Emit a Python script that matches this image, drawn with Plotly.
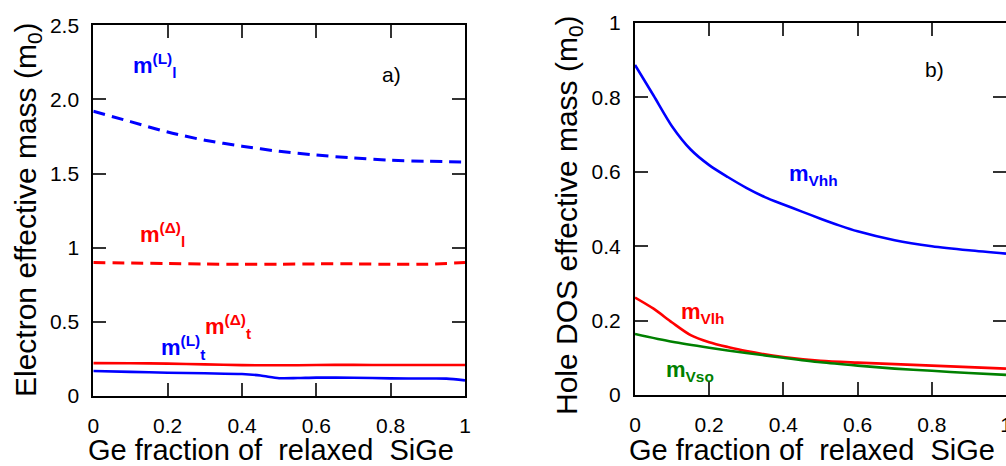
import plotly.graph_objects as go

W, H = 1006, 466
FONT = "Arial, 'Liberation Sans', sans-serif"

# ---------------- panel a) electron effective masses ----------------
x_elec = [0, 0.1, 0.2, 0.3, 0.4, 0.5, 0.6, 0.7, 0.8, 0.9, 1.0]
m_L_l = [1.92, 1.85, 1.78, 1.725, 1.685, 1.65, 1.625, 1.605, 1.59, 1.583, 1.578]
m_D_l = [0.90, 0.897, 0.893, 0.89, 0.888, 0.889, 0.891, 0.891, 0.888, 0.889, 0.90]
m_D_t = [0.222, 0.221, 0.218, 0.213, 0.208, 0.207, 0.209, 0.21, 0.209, 0.209, 0.209]

x_L_t = [0, 0.1, 0.2, 0.3, 0.4, 0.45, 0.5, 0.55, 0.6, 0.7, 0.8, 0.9, 0.95, 1.0]
m_L_t = [0.169, 0.163, 0.157, 0.153, 0.148, 0.138, 0.12, 0.121, 0.124, 0.123, 0.119, 0.118, 0.117, 0.105]

# ---------------- panel b) hole DOS effective masses ----------------
x_vhh = [0, 0.05, 0.1, 0.15, 0.2, 0.25, 0.3, 0.35, 0.4, 0.45, 0.5, 0.55, 0.6, 0.7, 0.8, 0.9, 1.0]
m_vhh = [0.887, 0.805, 0.722, 0.66, 0.618, 0.586, 0.557, 0.532, 0.512, 0.493, 0.474, 0.456, 0.44, 0.416, 0.40, 0.389, 0.38]

x_vlh = [0, 0.05, 0.1, 0.15, 0.2, 0.25, 0.3, 0.4, 0.5, 0.6, 0.7, 0.8, 0.9, 1.0]
m_vlh = [0.262, 0.232, 0.195, 0.161, 0.142, 0.129, 0.118, 0.102, 0.092, 0.087, 0.083, 0.079, 0.075, 0.071]

x_vso = [0, 0.1, 0.2, 0.3, 0.4, 0.5, 0.6, 0.7, 0.8, 0.9, 1.0]
m_vso = [0.164, 0.143, 0.127, 0.113, 0.10, 0.088, 0.079, 0.071, 0.065, 0.059, 0.054]

left_yticks = [0, 0.5, 1, 1.5, 2.0, 2.5]
left_yticktext = ["0", "0.5", "1", "1.5", "2.0", "2.5"]
right_yticks = [0, 0.2, 0.4, 0.6, 0.8, 1.0]
right_yticktext = ["0", "0.2", "0.4", "0.6", "0.8", "1"]
xticks = [0, 0.2, 0.4, 0.6, 0.8, 1.0]

BLUE, RED, GREEN = "#0000ff", "#ff0000", "#008000"

fig = go.Figure()

def line(x, y, color, xa, ya, dash="solid", width=2.6):
    fig.add_trace(go.Scatter(
        x=x, y=y, mode="lines", xaxis=xa, yaxis=ya, showlegend=False,
        line=dict(color=color, width=width, dash=dash, shape="spline", smoothing=0.8),
        hoverinfo="skip"))

line(x_elec, m_L_l, BLUE, "x", "y", dash="12px,7px", width=3)
line(x_elec, m_D_l, RED, "x", "y", dash="12px,7px", width=3)
line(x_elec, m_D_t, RED, "x", "y")
line(x_L_t, m_L_t, BLUE, "x", "y")

line(x_vhh, m_vhh, BLUE, "x2", "y2")
line(x_vlh, m_vlh, RED, "x2", "y2")
line(x_vso, m_vso, GREEN, "x2", "y2")

# empty trace so the right-hand tick axis of panel b) is created
fig.add_trace(go.Scatter(x=[None], y=[None], xaxis="x2", yaxis="y3", showlegend=False))

tickfont = dict(family=FONT, size=21, color="black")
tick_style = dict(ticks="inside", ticklen=13, tickwidth=1.5, tickcolor="#333")
common = dict(showgrid=False, zeroline=False, showline=True, linewidth=2,
              linecolor="black", tickfont=tickfont, automargin=False, **tick_style)

fig.update_layout(
    width=W, height=H,
    margin=dict(l=0, r=0, t=0, b=0, pad=0, autoexpand=False),
    paper_bgcolor="white", plot_bgcolor="white",
    xaxis=dict(domain=[93.3 / W, 465 / W], range=[0, 1], tickvals=xticks,
               mirror="ticks", anchor="y", ticklabelstandoff=10, **common),
    yaxis=dict(domain=[1 - 396 / H, 1 - 25.3 / H], range=[0, 2.5],
               tickvals=left_yticks, ticktext=left_yticktext,
               mirror="ticks", anchor="x", ticklabelstandoff=8, **common),
    xaxis2=dict(domain=[635 / W, 1.0], range=[0, 1], tickvals=xticks,
                mirror="ticks", anchor="y2", ticklabelstandoff=10,
                ticklabeloverflow="allow", **common),
    yaxis2=dict(domain=[1 - 395 / H, 1 - 23 / H], range=[0, 1],
                tickvals=right_yticks, ticktext=right_yticktext,
                mirror=False, anchor="x2", ticklabelstandoff=8, **common),
    yaxis3=dict(overlaying="y2", side="right", anchor="x2", range=[0, 1],
                tickvals=right_yticks, showticklabels=False, showgrid=False,
                zeroline=False, showline=False, **tick_style),
)

def label(text, x, y, color, xref, yref, size=22, bold=True, xanchor="left"):
    fig.add_annotation(
        text=f"<b>{text}</b>" if bold else text, x=x, y=y, xref=xref, yref=yref,
        showarrow=False, xanchor=xanchor, yanchor="middle",
        font=dict(family=FONT, size=size, color=color))

# curve labels, panel a)
label("m<sup>(L)</sup><sub>l</sub>", 0.102, 2.23, BLUE, "x", "y")
label("m<sup>(Δ)</sup><sub>l</sub>", 0.12, 1.09, RED, "x", "y")
label("m<sup>(Δ)</sup><sub>t</sub>", 0.295, 0.466, RED, "x", "y")
label("m<sup>(L)</sup><sub>t</sub>", 0.177, 0.324, BLUE, "x", "y")
label("a)", 0.803, 2.17, "black", "x", "y", size=21, bold=False, xanchor="center")

# curve labels, panel b)
label("m<sub>Vhh</sub>", 0.411, 0.591, BLUE, "x2", "y2")
label("m<sub>Vlh</sub>", 0.118, 0.22, RED, "x2", "y2")
label("m<sub>Vso</sub>", 0.078, 0.065, GREEN, "x2", "y2")
label("b)", 0.806, 0.874, "black", "x2", "y2", size=21, bold=False, xanchor="center")

# axis titles
def title(text, x, y, angle=0, size=30):
    fig.add_annotation(
        text=text, x=x, y=y, xref="paper", yref="paper", showarrow=False,
        xanchor="center", yanchor="middle", textangle=angle,
        font=dict(family=FONT, size=size, color="black"))

xtitle = "Ge fraction of\u00a0 relaxed\u00a0 SiGe"
title("Electron effective mass (m<sub>0</sub>)", 27 / W, 1 - 210 / H, -90)
title("Hole DOS effective mass (m<sub>0</sub>)", 568 / W, 1 - 215 / H, -90)
title(xtitle, 271 / W, 1 - 449.5 / H, size=29)
title(xtitle, 812 / W, 1 - 449.5 / H, size=29)

fig.write_html("out.html")
